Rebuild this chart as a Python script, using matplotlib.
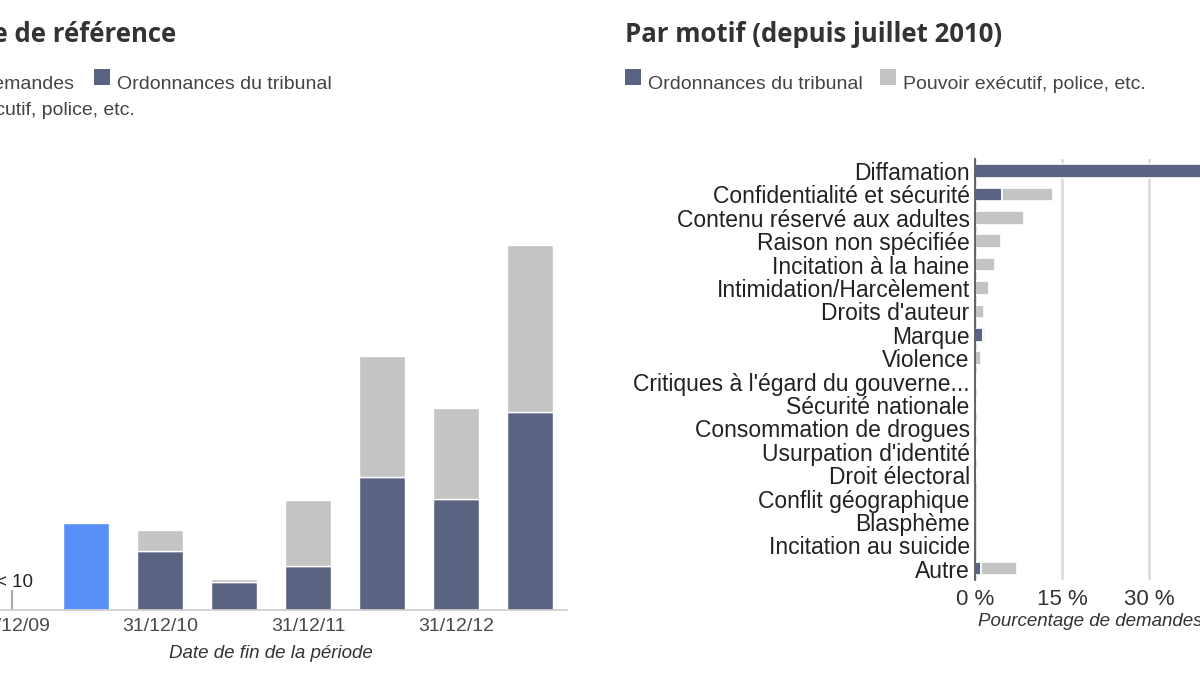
import matplotlib
matplotlib.use("Agg")
import matplotlib.pyplot as plt
from matplotlib.patches import Rectangle
import numpy as np

W, H = 1200, 675

# Left chart: requests per reporting period (half-years)
periods = ["31/12/09", "30/06/10", "31/12/10", "30/06/11",
           "31/12/11", "30/06/12", "31/12/12", "30/06/13"]
period_ticks = ["31/12/09", "", "31/12/10", "", "31/12/11", "", "31/12/12", ""]
total_requests = [0, 43.5, 0, 0, 0, 0, 0, 0]   # no breakdown before July 2010
court_orders = [0, 0, 29.5, 14, 22, 66.5, 55.5, 99]
executive = [0, 0, 10.5, 1.5, 33, 60.5, 45.5, 83.5]
under_ten = 10   # first period shown as "< 10"

# Right chart: share of requests per reason (%)
reasons = ["Diffamation", "Confidentialité et sécurité", "Contenu réservé aux adultes",
           "Raison non spécifiée", "Incitation à la haine", "Intimidation/Harcèlement",
           "Droits d'auteur", "Marque", "Violence", "Critiques à l'égard du gouverne...",
           "Sécurité nationale", "Consommation de drogues", "Usurpation d'identité",
           "Droit électoral", "Conflit géographique", "Blasphème",
           "Incitation au suicide", "Autre"]
reason_court = [46, 4.6, 0, 0, 0, 0, 0, 1.3, 0, 0, 0, 0, 0.1, 0, 0, 0, 0, 1.0]
reason_exec = [0, 8.8, 8.4, 4.4, 3.4, 2.3, 1.5, 0.4, 0.9, 0.3, 0.3, 0.1, 0.1, 0.05, 0, 0, 0, 6.2]
pct_ticks = [0, 15, 30, 45, 60]

DARK = "#5a6482"
GREY = "#c4c4c4"
BLUE = "#5890f8"

plt.rcParams["font.family"] = ["Liberation Sans", "DejaVu Sans"]

fig = plt.figure(figsize=(12, 6.75), dpi=100)


def fx(x):
    return x / W


def fy(y):
    return 1 - y / H


def legend_item(x, color, label, row_base=89):
    # square + label, x = left edge of square in pixels
    fig.patches.append(Rectangle((fx(x), fy(85)), 16 / W, 16 / H, transform=fig.transFigure,
                                 facecolor=color, edgecolor="none"))
    fig.text(fx(x + 23), fy(row_base), label, ha="left", va="baseline",
             fontsize=14, color="#444444")


# --- left chart ---
ax1 = fig.add_axes([fx(-173), (H - 610) / H, 740 / W, 460 / H])
x = np.arange(len(periods))
ax1.bar(x, total_requests, width=0.62, color=BLUE, edgecolor="white", linewidth=1)
ax1.bar(x, court_orders, width=0.62, color=DARK, edgecolor="white", linewidth=1)
ax1.bar(x, executive, bottom=court_orders, width=0.62, color=GREY, edgecolor="white", linewidth=1)
ax1.vlines(0, 0, under_ten, color="#aaaaaa", lw=1.5)
ax1.text(0.03, under_ten + 1.5, "< 10", ha="center", va="baseline", fontsize=13.5, color="#222222")
ax1.set_xlim(-2.5, 7.5)
ax1.set_ylim(0, 230)
ax1.set_xticks(x)
ax1.set_xticklabels(period_ticks)
ax1.tick_params(axis="x", length=0, pad=6, labelsize=14, labelcolor="#4a4a4a")
ax1.set_yticks([])
for s in ["top", "left", "right"]:
    ax1.spines[s].set_visible(False)
ax1.spines["bottom"].set_color("#cccccc")
ax1.spines["bottom"].set_linewidth(1.2)
fig.text(fx(271), fy(653), "Date de fin de la période", ha="center", va="center",
         fontsize=13.5, style="italic", color="#333333")

fig.text(fx(176), fy(41.5), "Par période de référence", ha="right", va="baseline",
         fontfamily="Open Sans", fontweight="bold", fontsize=18.5, color="#333333")
fig.text(fx(74), fy(89), "Nombre de demandes", ha="right", va="baseline",
         fontsize=14, color="#444444")
legend_item(94, DARK, "Ordonnances du tribunal")
fig.text(fx(135), fy(115), "Pouvoir exécutif, police, etc.", ha="right", va="baseline",
         fontsize=14, color="#444444")

# --- right chart ---
ax2 = fig.add_axes([fx(975.3), (H - 580.4) / H, 348 / W, 421.1 / H])
y = np.arange(len(reasons))
ax2.barh(y, reason_court, height=0.58, color=DARK, edgecolor="white", linewidth=1.2)
ax2.barh(y, reason_exec, left=reason_court, height=0.58, color=GREY,
         edgecolor="white", linewidth=1.2)
ax2.set_xlim(0, 60)
ax2.set_ylim(len(reasons) - 0.5, -0.5)
ax2.set_yticks(y)
ax2.set_yticklabels(reasons)
ax2.set_xticks(pct_ticks)
ax2.set_xticklabels([f"{v} %" for v in pct_ticks])
ax2.tick_params(axis="y", length=0, pad=4, labelsize=16.5, labelcolor="#222222")
ax2.tick_params(axis="x", length=0, pad=6, labelsize=16, labelcolor="#333333")
ax2.xaxis.grid(True, color="#dddddd", lw=2)
ax2.set_axisbelow(True)
for s in ["top", "bottom", "right"]:
    ax2.spines[s].set_visible(False)
ax2.spines["left"].set_color("#555555")
ax2.spines["left"].set_linewidth(1.3)
fig.text(fx(978), fy(622), "Pourcentage de demandes", ha="left", va="center",
         fontsize=13.5, style="italic", color="#333333")

fig.text(fx(625), fy(41.5), "Par motif (depuis juillet 2010)", ha="left", va="baseline",
         fontfamily="Open Sans", fontweight="bold", fontsize=18.5, color="#333333")
legend_item(625, DARK, "Ordonnances du tribunal")
legend_item(880, GREY, "Pouvoir exécutif, police, etc.")

fig.savefig("out.png", dpi=100)
